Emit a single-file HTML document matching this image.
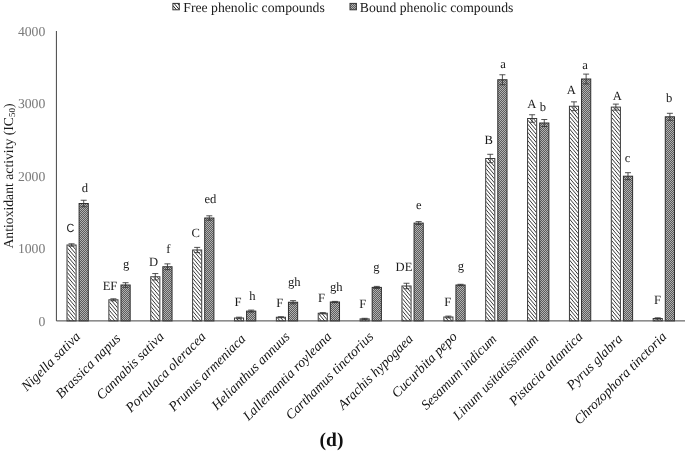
<!DOCTYPE html>
<html><head><meta charset="utf-8"><title>chart</title>
<style>
html,body{margin:0;padding:0;background:#fff}
svg{display:block}
text{font-family:"Liberation Serif",serif;text-rendering:geometricPrecision}
</style></head><body>
<svg width="685" height="453" viewBox="0 0 685 453">
<defs>
<pattern id="dot" width="2" height="2" patternUnits="userSpaceOnUse">
<rect width="2" height="2" fill="#5c5c5c"/><rect width="1" height="1" fill="#b2b2b2"/><rect x="1" y="1" width="1" height="1" fill="#b2b2b2"/>
</pattern>
<clipPath id="lg"><rect x="172.9" y="3.4" width="6.4" height="6.4"/></clipPath>
</defs>
<rect width="685" height="453" fill="#fff"/>

<rect x="172.9" y="3.4" width="6.4" height="6.4" fill="#fff" stroke="#333" stroke-width="1"/><path d="M172.9 5.6l3.6 4.2M172.9 2l6.4 7.6M175.6 1.2l3.7 4.4" stroke="#222" stroke-width="1" fill="none" clip-path="url(#lg)"/>
<text x="183.3" y="12" font-size="13.7" fill="#1a1a1a">Free phenolic compounds</text>
<rect x="350" y="3.4" width="6.4" height="6.4" fill="url(#dot)" stroke="#333" stroke-width="1"/>
<text x="359.8" y="12" font-size="13.7" fill="#1a1a1a">Bound phenolic compounds</text>
<text x="45.3" y="325.6" font-size="13.7" fill="#7a7a7a" text-anchor="end">0</text>
<text x="45.3" y="253.2" font-size="13.7" fill="#7a7a7a" text-anchor="end">1000</text>
<text x="45.3" y="180.8" font-size="13.7" fill="#7a7a7a" text-anchor="end">2000</text>
<text x="45.3" y="108.4" font-size="13.7" fill="#7a7a7a" text-anchor="end">3000</text>
<text x="45.3" y="36.0" font-size="13.7" fill="#7a7a7a" text-anchor="end">4000</text>
<text transform="translate(12.6,176) rotate(-90)" font-size="13.7" fill="#1a1a1a" text-anchor="middle">Antioxidant activity (IC<tspan font-size="9" dy="2.6">50</tspan><tspan dy="-2.6">)</tspan></text>
<rect x="67.00" y="245.00" width="9.10" height="75.90" fill="#fff" stroke="#3a3a3a" stroke-width="1"/>
<rect x="79.10" y="203.50" width="9.20" height="117.40" fill="url(#dot)" stroke="#2e2e2e" stroke-width="1"/>
<text transform="translate(70.5,232) scale(0.9,1)" font-size="12" fill="#1a1a1a" text-anchor="middle" style="font-family:'Liberation Sans',sans-serif">C</text>
<text x="85" y="191.75" font-size="12.6" fill="#1a1a1a" text-anchor="middle">d</text>
<text transform="translate(81.10,337.40) rotate(-45)" font-size="13.8" font-style="italic" fill="#111" text-anchor="end">Nigella sativa</text>
<rect x="108.87" y="299.80" width="9.10" height="21.10" fill="#fff" stroke="#3a3a3a" stroke-width="1"/>
<rect x="120.97" y="285.00" width="9.20" height="35.90" fill="url(#dot)" stroke="#2e2e2e" stroke-width="1"/>
<text x="110" y="290" font-size="12.6" fill="#1a1a1a" text-anchor="middle">EF</text>
<text x="126.2" y="267.5" font-size="12.6" fill="#1a1a1a" text-anchor="middle">g</text>
<text transform="translate(121.20,339.17) rotate(-45)" font-size="13.8" font-style="italic" fill="#111" text-anchor="end">Brassica napus</text>
<rect x="150.74" y="276.75" width="9.10" height="44.15" fill="#fff" stroke="#3a3a3a" stroke-width="1"/>
<rect x="162.84" y="266.75" width="9.20" height="54.15" fill="url(#dot)" stroke="#2e2e2e" stroke-width="1"/>
<text x="153.5" y="266.4" font-size="12.6" fill="#1a1a1a" text-anchor="middle">D</text>
<text x="168.25" y="253" font-size="12.6" fill="#1a1a1a" text-anchor="middle">f</text>
<text transform="translate(164.84,337.40) rotate(-45)" font-size="13.8" font-style="italic" fill="#111" text-anchor="end">Cannabis sativa</text>
<rect x="192.61" y="250.00" width="9.10" height="70.90" fill="#fff" stroke="#3a3a3a" stroke-width="1"/>
<rect x="204.71" y="218.00" width="9.20" height="102.90" fill="url(#dot)" stroke="#2e2e2e" stroke-width="1"/>
<text x="195.7" y="237" font-size="12.6" fill="#1a1a1a" text-anchor="middle">C</text>
<text x="210.4" y="203" font-size="12.6" fill="#1a1a1a" text-anchor="middle">ed</text>
<text transform="translate(206.71,337.40) rotate(-45)" font-size="13.8" font-style="italic" fill="#111" text-anchor="end">Portulaca oleracea</text>
<rect x="234.48" y="318.00" width="9.10" height="2.90" fill="#fff" stroke="#3a3a3a" stroke-width="1"/>
<rect x="246.58" y="311.10" width="9.20" height="9.80" fill="url(#dot)" stroke="#2e2e2e" stroke-width="1"/>
<text x="238" y="305.75" font-size="12.6" fill="#1a1a1a" text-anchor="middle">F</text>
<text x="252.4" y="300" font-size="12.6" fill="#1a1a1a" text-anchor="middle">h</text>
<text transform="translate(246.46,339.52) rotate(-45)" font-size="13.8" font-style="italic" fill="#111" text-anchor="end">Prunus armeniaca</text>
<rect x="276.35" y="317.25" width="9.10" height="3.65" fill="#fff" stroke="#3a3a3a" stroke-width="1"/>
<rect x="288.45" y="302.25" width="9.20" height="18.65" fill="url(#dot)" stroke="#2e2e2e" stroke-width="1"/>
<text x="279.75" y="307" font-size="12.6" fill="#1a1a1a" text-anchor="middle">F</text>
<text x="294.25" y="285.5" font-size="12.6" fill="#1a1a1a" text-anchor="middle">gh</text>
<text transform="translate(290.45,337.40) rotate(-45)" font-size="13.8" font-style="italic" fill="#111" text-anchor="end">Helianthus annuus</text>
<rect x="318.22" y="313.25" width="9.10" height="7.65" fill="#fff" stroke="#3a3a3a" stroke-width="1"/>
<rect x="330.32" y="302.00" width="9.20" height="18.90" fill="url(#dot)" stroke="#2e2e2e" stroke-width="1"/>
<text x="321.5" y="302" font-size="12.6" fill="#1a1a1a" text-anchor="middle">F</text>
<text x="336.25" y="290.75" font-size="12.6" fill="#1a1a1a" text-anchor="middle">gh</text>
<text transform="translate(332.32,337.40) rotate(-45)" font-size="13.8" font-style="italic" fill="#111" text-anchor="end">Lallemantia royleana</text>
<rect x="360.09" y="318.90" width="9.10" height="2.00" fill="#fff" stroke="#3a3a3a" stroke-width="1"/>
<rect x="372.19" y="287.40" width="9.20" height="33.50" fill="url(#dot)" stroke="#2e2e2e" stroke-width="1"/>
<text x="362.8" y="307.5" font-size="12.6" fill="#1a1a1a" text-anchor="middle">F</text>
<text x="376.3" y="270.75" font-size="12.6" fill="#1a1a1a" text-anchor="middle">g</text>
<text transform="translate(374.19,337.40) rotate(-45)" font-size="13.8" font-style="italic" fill="#111" text-anchor="end">Carthamus tinctorius</text>
<rect x="401.96" y="286.00" width="9.10" height="34.90" fill="#fff" stroke="#3a3a3a" stroke-width="1"/>
<rect x="414.06" y="223.10" width="9.20" height="97.80" fill="url(#dot)" stroke="#2e2e2e" stroke-width="1"/>
<text x="404" y="270.75" font-size="12.6" fill="#1a1a1a" text-anchor="middle">DE</text>
<text x="418.9" y="209.4" font-size="12.6" fill="#1a1a1a" text-anchor="middle">e</text>
<text transform="translate(413.94,339.52) rotate(-45)" font-size="13.8" font-style="italic" fill="#111" text-anchor="end">Arachis hypogaea</text>
<rect x="443.83" y="317.00" width="9.10" height="3.90" fill="#fff" stroke="#3a3a3a" stroke-width="1"/>
<rect x="455.93" y="285.00" width="9.20" height="35.90" fill="url(#dot)" stroke="#2e2e2e" stroke-width="1"/>
<text x="447.75" y="305.75" font-size="12.6" fill="#1a1a1a" text-anchor="middle">F</text>
<text x="460.9" y="270" font-size="12.6" fill="#1a1a1a" text-anchor="middle">g</text>
<text transform="translate(457.93,337.40) rotate(-45)" font-size="13.8" font-style="italic" fill="#111" text-anchor="end">Cucurbita pepo</text>
<rect x="485.70" y="158.50" width="9.10" height="162.40" fill="#fff" stroke="#3a3a3a" stroke-width="1"/>
<rect x="497.80" y="79.75" width="9.20" height="241.15" fill="url(#dot)" stroke="#2e2e2e" stroke-width="1"/>
<text x="488.75" y="144.25" font-size="12.6" fill="#1a1a1a" text-anchor="middle">B</text>
<text x="503.1" y="68" font-size="12.6" fill="#1a1a1a" text-anchor="middle">a</text>
<text transform="translate(497.33,339.87) rotate(-45)" font-size="13.8" font-style="italic" fill="#111" text-anchor="end">Sesamum indicum</text>
<rect x="527.57" y="118.50" width="9.10" height="202.40" fill="#fff" stroke="#3a3a3a" stroke-width="1"/>
<rect x="539.67" y="123.00" width="9.20" height="197.90" fill="url(#dot)" stroke="#2e2e2e" stroke-width="1"/>
<text x="531.75" y="108" font-size="12.6" fill="#1a1a1a" text-anchor="middle">A</text>
<text x="542.9" y="110.75" font-size="12.6" fill="#1a1a1a" text-anchor="middle">b</text>
<text transform="translate(539.41,339.66) rotate(-45)" font-size="13.8" font-style="italic" fill="#111" text-anchor="end">Linum usitatissimum</text>
<rect x="569.44" y="106.25" width="9.10" height="214.65" fill="#fff" stroke="#3a3a3a" stroke-width="1"/>
<rect x="581.54" y="79.00" width="9.20" height="241.90" fill="url(#dot)" stroke="#2e2e2e" stroke-width="1"/>
<text x="571.25" y="94.25" font-size="12.6" fill="#1a1a1a" text-anchor="middle">A</text>
<text x="585.1" y="68.75" font-size="12.6" fill="#1a1a1a" text-anchor="middle">a</text>
<text transform="translate(583.54,337.40) rotate(-45)" font-size="13.8" font-style="italic" fill="#111" text-anchor="end">Pistacia atlantica</text>
<rect x="611.31" y="107.10" width="9.10" height="213.80" fill="#fff" stroke="#3a3a3a" stroke-width="1"/>
<rect x="623.41" y="176.20" width="9.20" height="144.70" fill="url(#dot)" stroke="#2e2e2e" stroke-width="1"/>
<text x="617.3" y="100" font-size="12.6" fill="#1a1a1a" text-anchor="middle">A</text>
<text x="627.5" y="161.7" font-size="12.6" fill="#1a1a1a" text-anchor="middle">c</text>
<text transform="translate(623.29,339.52) rotate(-45)" font-size="13.8" font-style="italic" fill="#111" text-anchor="end">Pyrus glabra</text>
<rect x="653.18" y="318.50" width="9.10" height="2.40" fill="#fff" stroke="#3a3a3a" stroke-width="1"/>
<rect x="665.28" y="116.80" width="9.20" height="204.10" fill="url(#dot)" stroke="#2e2e2e" stroke-width="1"/>
<text x="657.4" y="303.5" font-size="12.6" fill="#1a1a1a" text-anchor="middle">F</text>
<text x="669.25" y="101.6" font-size="12.6" fill="#1a1a1a" text-anchor="middle">b</text>
<text transform="translate(667.28,337.40) rotate(-45)" font-size="13.8" font-style="italic" fill="#111" text-anchor="end">Chrozophora tinctoria</text>
<clipPath id="fc"><rect x="67.50" y="245.50" width="8.10" height="75.40"/><rect x="109.37" y="300.30" width="8.10" height="20.60"/><rect x="151.24" y="277.25" width="8.10" height="43.65"/><rect x="193.11" y="250.50" width="8.10" height="70.40"/><rect x="234.98" y="318.50" width="8.10" height="2.40"/><rect x="276.85" y="317.75" width="8.10" height="3.15"/><rect x="318.72" y="313.75" width="8.10" height="7.15"/><rect x="360.59" y="319.40" width="8.10" height="1.50"/><rect x="402.46" y="286.50" width="8.10" height="34.40"/><rect x="444.33" y="317.50" width="8.10" height="3.40"/><rect x="486.20" y="159.00" width="8.10" height="161.90"/><rect x="528.07" y="119.00" width="8.10" height="201.90"/><rect x="569.94" y="106.75" width="8.10" height="214.15"/><rect x="611.81" y="107.60" width="8.10" height="213.30"/><rect x="653.68" y="319.00" width="8.10" height="1.90"/></clipPath><path d="M0 -816.35L685 0.00M0 -812.25L685 4.10M0 -808.15L685 8.20M0 -804.05L685 12.30M0 -799.95L685 16.40M0 -795.85L685 20.50M0 -791.75L685 24.60M0 -787.65L685 28.70M0 -783.55L685 32.80M0 -779.45L685 36.90M0 -775.35L685 41.00M0 -771.25L685 45.10M0 -767.15L685 49.20M0 -763.05L685 53.30M0 -758.95L685 57.40M0 -754.85L685 61.50M0 -750.75L685 65.60M0 -746.65L685 69.70M0 -742.55L685 73.80M0 -738.45L685 77.90M0 -734.35L685 82.00M0 -730.25L685 86.10M0 -726.15L685 90.20M0 -722.05L685 94.30M0 -717.95L685 98.40M0 -713.85L685 102.50M0 -709.75L685 106.60M0 -705.65L685 110.70M0 -701.55L685 114.80M0 -697.45L685 118.90M0 -693.35L685 123.00M0 -689.25L685 127.10M0 -685.15L685 131.20M0 -681.05L685 135.30M0 -676.95L685 139.40M0 -672.85L685 143.50M0 -668.75L685 147.60M0 -664.65L685 151.70M0 -660.55L685 155.80M0 -656.45L685 159.90M0 -652.35L685 164.00M0 -648.25L685 168.10M0 -644.15L685 172.20M0 -640.05L685 176.30M0 -635.95L685 180.40M0 -631.85L685 184.50M0 -627.75L685 188.60M0 -623.65L685 192.70M0 -619.55L685 196.80M0 -615.45L685 200.90M0 -611.35L685 205.00M0 -607.25L685 209.10M0 -603.15L685 213.20M0 -599.05L685 217.30M0 -594.95L685 221.40M0 -590.85L685 225.50M0 -586.75L685 229.60M0 -582.65L685 233.70M0 -578.55L685 237.80M0 -574.45L685 241.90M0 -570.35L685 246.00M0 -566.25L685 250.10M0 -562.15L685 254.20M0 -558.05L685 258.30M0 -553.95L685 262.40M0 -549.85L685 266.50M0 -545.75L685 270.60M0 -541.65L685 274.70M0 -537.55L685 278.80M0 -533.45L685 282.90M0 -529.35L685 287.00M0 -525.25L685 291.10M0 -521.15L685 295.20M0 -517.05L685 299.30M0 -512.95L685 303.40M0 -508.85L685 307.50M0 -504.75L685 311.60M0 -500.65L685 315.70M0 -496.55L685 319.80M0 -492.45L685 323.90M0 -488.35L685 328.00M0 -484.25L685 332.10M0 -480.15L685 336.20M0 -476.05L685 340.30M0 -471.95L685 344.40M0 -467.85L685 348.50M0 -463.75L685 352.60M0 -459.65L685 356.70M0 -455.55L685 360.80M0 -451.45L685 364.90M0 -447.35L685 369.00M0 -443.25L685 373.10M0 -439.15L685 377.20M0 -435.05L685 381.30M0 -430.95L685 385.40M0 -426.85L685 389.50M0 -422.75L685 393.60M0 -418.65L685 397.70M0 -414.55L685 401.80M0 -410.45L685 405.90M0 -406.35L685 410.00M0 -402.25L685 414.10M0 -398.15L685 418.20M0 -394.05L685 422.30M0 -389.95L685 426.40M0 -385.85L685 430.50M0 -381.75L685 434.60M0 -377.65L685 438.70M0 -373.55L685 442.80M0 -369.45L685 446.90M0 -365.35L685 451.00M0 -361.25L685 455.10M0 -357.15L685 459.20M0 -353.05L685 463.30M0 -348.95L685 467.40M0 -344.85L685 471.50M0 -340.75L685 475.60M0 -336.65L685 479.70M0 -332.55L685 483.80M0 -328.45L685 487.90M0 -324.35L685 492.00M0 -320.25L685 496.10M0 -316.15L685 500.20M0 -312.05L685 504.30M0 -307.95L685 508.40M0 -303.85L685 512.50M0 -299.75L685 516.60M0 -295.65L685 520.70M0 -291.55L685 524.80M0 -287.45L685 528.90M0 -283.35L685 533.00M0 -279.25L685 537.10M0 -275.15L685 541.20M0 -271.05L685 545.30M0 -266.95L685 549.40M0 -262.85L685 553.50M0 -258.75L685 557.60M0 -254.65L685 561.70M0 -250.55L685 565.80M0 -246.45L685 569.90M0 -242.35L685 574.00M0 -238.25L685 578.10M0 -234.15L685 582.20M0 -230.05L685 586.30M0 -225.95L685 590.40M0 -221.85L685 594.50M0 -217.75L685 598.60M0 -213.65L685 602.70M0 -209.55L685 606.80M0 -205.45L685 610.90M0 -201.35L685 615.00M0 -197.25L685 619.10M0 -193.15L685 623.20M0 -189.05L685 627.30M0 -184.95L685 631.40M0 -180.85L685 635.50M0 -176.75L685 639.60M0 -172.65L685 643.70M0 -168.55L685 647.80M0 -164.45L685 651.90M0 -160.35L685 656.00M0 -156.25L685 660.10M0 -152.15L685 664.20M0 -148.05L685 668.30M0 -143.95L685 672.40M0 -139.85L685 676.50M0 -135.75L685 680.60M0 -131.65L685 684.70M0 -127.55L685 688.80M0 -123.45L685 692.90M0 -119.35L685 697.00M0 -115.25L685 701.10M0 -111.15L685 705.20M0 -107.05L685 709.30M0 -102.95L685 713.40M0 -98.85L685 717.50M0 -94.75L685 721.60M0 -90.65L685 725.70M0 -86.55L685 729.80M0 -82.45L685 733.90M0 -78.35L685 738.00M0 -74.25L685 742.10M0 -70.15L685 746.20M0 -66.05L685 750.30M0 -61.95L685 754.40M0 -57.85L685 758.50M0 -53.75L685 762.60M0 -49.65L685 766.70M0 -45.55L685 770.80M0 -41.45L685 774.90M0 -37.35L685 779.00M0 -33.25L685 783.10M0 -29.15L685 787.20M0 -25.05L685 791.30M0 -20.95L685 795.40M0 -16.85L685 799.50M0 -12.75L685 803.60M0 -8.65L685 807.70M0 -4.55L685 811.80M0 -0.45L685 815.90M0 3.65L685 820.00M0 7.75L685 824.10M0 11.85L685 828.20M0 15.95L685 832.30M0 20.05L685 836.40M0 24.15L685 840.50M0 28.25L685 844.60M0 32.35L685 848.70M0 36.45L685 852.80M0 40.55L685 856.90M0 44.65L685 861.00M0 48.75L685 865.10M0 52.85L685 869.20M0 56.95L685 873.30M0 61.05L685 877.40M0 65.15L685 881.50M0 69.25L685 885.60M0 73.35L685 889.70M0 77.45L685 893.80M0 81.55L685 897.90M0 85.65L685 902.00M0 89.75L685 906.10M0 93.85L685 910.20M0 97.95L685 914.30M0 102.05L685 918.40M0 106.15L685 922.50M0 110.25L685 926.60M0 114.35L685 930.70M0 118.45L685 934.80M0 122.55L685 938.90M0 126.65L685 943.00M0 130.75L685 947.10M0 134.85L685 951.20M0 138.95L685 955.30M0 143.05L685 959.40M0 147.15L685 963.50M0 151.25L685 967.60M0 155.35L685 971.70M0 159.45L685 975.80M0 163.55L685 979.90M0 167.65L685 984.00M0 171.75L685 988.10M0 175.85L685 992.20M0 179.95L685 996.30M0 184.05L685 1000.40M0 188.15L685 1004.50M0 192.25L685 1008.60M0 196.35L685 1012.70M0 200.45L685 1016.80M0 204.55L685 1020.90M0 208.65L685 1025.00M0 212.75L685 1029.10M0 216.85L685 1033.20M0 220.95L685 1037.30M0 225.05L685 1041.40M0 229.15L685 1045.50M0 233.25L685 1049.60M0 237.35L685 1053.70M0 241.45L685 1057.80M0 245.55L685 1061.90M0 249.65L685 1066.00M0 253.75L685 1070.10M0 257.85L685 1074.20M0 261.95L685 1078.30M0 266.05L685 1082.40M0 270.15L685 1086.50M0 274.25L685 1090.60M0 278.35L685 1094.70M0 282.45L685 1098.80M0 286.55L685 1102.90M0 290.65L685 1107.00M0 294.75L685 1111.10M0 298.85L685 1115.20M0 302.95L685 1119.30M0 307.05L685 1123.40M0 311.15L685 1127.50M0 315.25L685 1131.60M0 319.35L685 1135.70" stroke="#222" stroke-width="0.9" fill="none" clip-path="url(#fc)"/>
<path d="M71.55 243.80V246.20M68.55 243.80h6M68.55 246.20h6" stroke="#333" stroke-width="0.85" fill="none"/>
<path d="M83.70 200.25V206.75M80.70 200.25h6M80.70 206.75h6" stroke="#333" stroke-width="0.85" fill="none"/>
<path d="M113.42 298.80V300.80M110.42 298.80h6M110.42 300.80h6" stroke="#333" stroke-width="0.85" fill="none"/>
<path d="M125.57 282.70V287.30M122.57 282.70h6M122.57 287.30h6" stroke="#333" stroke-width="0.85" fill="none"/>
<path d="M155.29 273.55V279.95M152.29 273.55h6M152.29 279.95h6" stroke="#333" stroke-width="0.85" fill="none"/>
<path d="M167.44 263.85V269.65M164.44 263.85h6M164.44 269.65h6" stroke="#333" stroke-width="0.85" fill="none"/>
<path d="M197.16 247.40V252.60M194.16 247.40h6M194.16 252.60h6" stroke="#333" stroke-width="0.85" fill="none"/>
<path d="M209.31 215.80V220.20M206.31 215.80h6M206.31 220.20h6" stroke="#333" stroke-width="0.85" fill="none"/>
<path d="M239.03 317.20V318.80M236.03 317.20h6M236.03 318.80h6" stroke="#333" stroke-width="0.85" fill="none"/>
<path d="M251.18 310.10V312.10M248.18 310.10h6M248.18 312.10h6" stroke="#333" stroke-width="0.85" fill="none"/>
<path d="M280.90 316.75V317.75M277.90 316.75h6M277.90 317.75h6" stroke="#333" stroke-width="0.85" fill="none"/>
<path d="M293.05 300.65V303.85M290.05 300.65h6M290.05 303.85h6" stroke="#333" stroke-width="0.85" fill="none"/>
<path d="M322.77 312.65V313.85M319.77 312.65h6M319.77 313.85h6" stroke="#333" stroke-width="0.85" fill="none"/>
<path d="M334.92 301.40V302.60M331.92 301.40h6M331.92 302.60h6" stroke="#333" stroke-width="0.85" fill="none"/>
<path d="M364.64 318.30V319.50M361.64 318.30h6M361.64 319.50h6" stroke="#333" stroke-width="0.85" fill="none"/>
<path d="M376.79 286.40V288.40M373.79 286.40h6M373.79 288.40h6" stroke="#333" stroke-width="0.85" fill="none"/>
<path d="M406.51 283.25V288.75M403.51 283.25h6M403.51 288.75h6" stroke="#333" stroke-width="0.85" fill="none"/>
<path d="M418.66 221.60V224.60M415.66 221.60h6M415.66 224.60h6" stroke="#333" stroke-width="0.85" fill="none"/>
<path d="M448.38 316.10V317.90M445.38 316.10h6M445.38 317.90h6" stroke="#333" stroke-width="0.85" fill="none"/>
<path d="M460.53 284.30V285.70M457.53 284.30h6M457.53 285.70h6" stroke="#333" stroke-width="0.85" fill="none"/>
<path d="M490.25 154.30V162.70M487.25 154.30h6M487.25 162.70h6" stroke="#333" stroke-width="0.85" fill="none"/>
<path d="M502.40 74.75V84.75M499.40 74.75h6M499.40 84.75h6" stroke="#333" stroke-width="0.85" fill="none"/>
<path d="M532.12 114.75V122.25M529.12 114.75h6M529.12 122.25h6" stroke="#333" stroke-width="0.85" fill="none"/>
<path d="M544.27 119.50V126.50M541.27 119.50h6M541.27 126.50h6" stroke="#333" stroke-width="0.85" fill="none"/>
<path d="M573.99 101.85V110.65M570.99 101.85h6M570.99 110.65h6" stroke="#333" stroke-width="0.85" fill="none"/>
<path d="M586.14 74.10V83.90M583.14 74.10h6M583.14 83.90h6" stroke="#333" stroke-width="0.85" fill="none"/>
<path d="M615.86 104.10V110.10M612.86 104.10h6M612.86 110.10h6" stroke="#333" stroke-width="0.85" fill="none"/>
<path d="M628.01 172.70V179.70M625.01 172.70h6M625.01 179.70h6" stroke="#333" stroke-width="0.85" fill="none"/>
<path d="M657.73 317.80V319.20M654.73 317.80h6M654.73 319.20h6" stroke="#333" stroke-width="0.85" fill="none"/>
<path d="M669.88 113.30V120.30M666.88 113.30h6M666.88 120.30h6" stroke="#333" stroke-width="0.85" fill="none"/>
<path d="M56.4 31V320.9H685" stroke="#444" stroke-width="1" fill="none"/>
<text x="331.5" y="446.3" font-size="19.5" font-weight="bold" fill="#111" text-anchor="middle">(d)</text>
</svg></body></html>
